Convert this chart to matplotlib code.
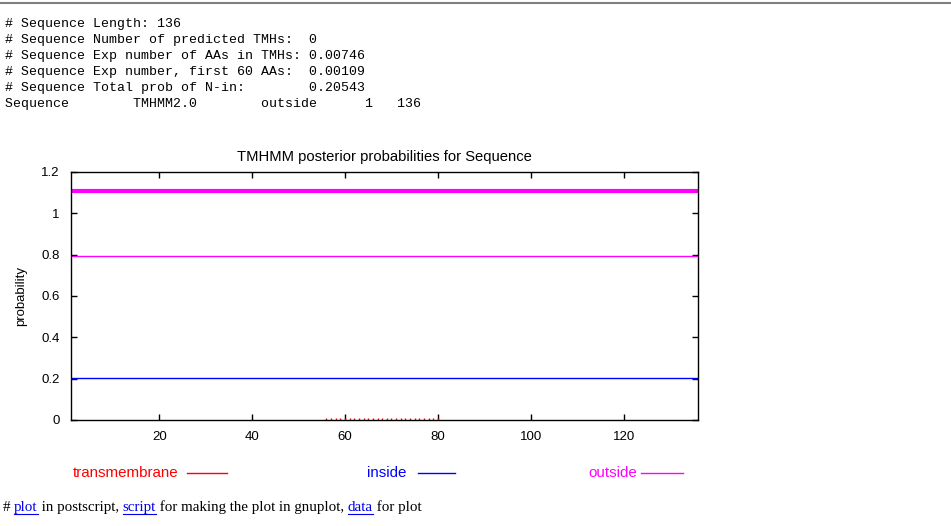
import numpy as np
import matplotlib
matplotlib.use("Agg")
import matplotlib.pyplot as plt
from matplotlib.lines import Line2D

header_lines = ["# Sequence Length: 136",
                "# Sequence Number of predicted TMHs:  0",
                "# Sequence Exp number of AAs in TMHs: 0.00746",
                "# Sequence Exp number, first 60 AAs:  0.00109",
                "# Sequence Total prob of N-in:        0.20543",
                "Sequence\tTMHMM2.0\toutside\t     1   136"]

seq_len = 136
residues = np.arange(1, seq_len + 1)
inside_prob = np.full(seq_len, 0.205)
outside_prob = np.full(seq_len, 0.795)
tm_residues = np.arange(56, 81)
tm_prob = np.full(len(tm_residues), 0.008)
topology_start, topology_end, topology_y = 1, 136, 1.11

xticks = [20, 40, 60, 80, 100, 120]
yticks = [0, 0.2, 0.4, 0.6, 0.8, 1, 1.2]
ytick_labels = ["0", "0.2", "0.4", "0.6", "0.8", "1", "1.2"]

legend_names = ["transmembrane", "inside", "outside"]
legend_colors = ["#ff0000", "#0000ff", "#ff00ff"]

W, H = 951, 526
fig = plt.figure(figsize=(W / 100, H / 100), dpi=100)

# top rule
fig.add_artist(Line2D([0, 1], [1 - 3 / H, 1 - 3 / H], color="#808080", lw=1.5,
                      transform=fig.transFigure))

# header text (monospace)
mono = "Liberation Mono"
for i, line in enumerate(header_lines):
    fig.text(5 / W, 1 - (24 + 16 * i) / H, line.expandtabs(8), family=mono,
             fontsize=9.5, va="center", ha="left")

ax = fig.add_axes([71 / W, (H - 420) / H, (698 - 71) / W, (420 - 172) / H])
ax.plot(residues, outside_prob, color="#ff00ff", lw=1.0)
ax.plot(residues, inside_prob, color="#0000ff", lw=1.0)
ax.vlines(tm_residues, 0, tm_prob, color="#ff0000", lw=1.0)
ax.plot([topology_start, topology_end], [topology_y, topology_y], color="#ff00ff", lw=3.0,
        solid_capstyle="butt")

ax.set_xlim(1, seq_len)
ax.set_ylim(0, 1.2)
ax.set_xticks(xticks)
ax.set_yticks(yticks)
ax.set_yticklabels(ytick_labels)
ax.tick_params(direction="in", top=True, right=True, length=4, width=1,
               labelsize=9.5, pad=8)
for lab in ax.get_xticklabels() + ax.get_yticklabels():
    lab.set_family("Liberation Sans")
for s in ax.spines.values():
    s.set_linewidth(1.0)
ax.set_title("TMHMM posterior probabilities for Sequence", family="Liberation Sans",
             fontsize=10.6, pad=8)
ax.set_ylabel("probability", family="Liberation Sans", fontsize=9.5, labelpad=10)

# legend below plot
legend_x = [(178, 187, 227), (406, 418, 455), (637, 641, 683)]
ly = 1 - 473 / H
for name, col, (tx, l0, l1) in zip(legend_names, legend_colors, legend_x):
    fig.text(tx / W, ly, name, color=col, family="Liberation Sans", fontsize=10.9,
             ha="right", va="center")
    fig.add_artist(Line2D([l0 / W, l1 / W], [ly, ly], color=col, lw=1.0,
                          transform=fig.transFigure))

# footer with links
pieces = [("# ", "black"), ("plot", "#0000ee"), (" in postscript, ", "black"),
          ("script", "#0000ee"), (" for making the plot in gnuplot, ", "black"),
          ("data", "#0000ee"), (" for plot", "black")]
fig.canvas.draw()
r = fig.canvas.get_renderer()
x = 3
fy = 511
for txt, col in pieces:
    t = fig.text(x / W, 1 - fy / H, txt, color=col, family="Liberation Serif",
                 fontsize=10.8, ha="left", va="baseline")
    bb = t.get_window_extent(renderer=r)
    if col != "black":
        fig.add_artist(Line2D([bb.x0 / W, bb.x1 / W], [1 - (fy + 3) / H, 1 - (fy + 3) / H],
                              color=col, lw=0.8, transform=fig.transFigure))
    x += bb.width

fig.savefig("out.png", dpi=100)
